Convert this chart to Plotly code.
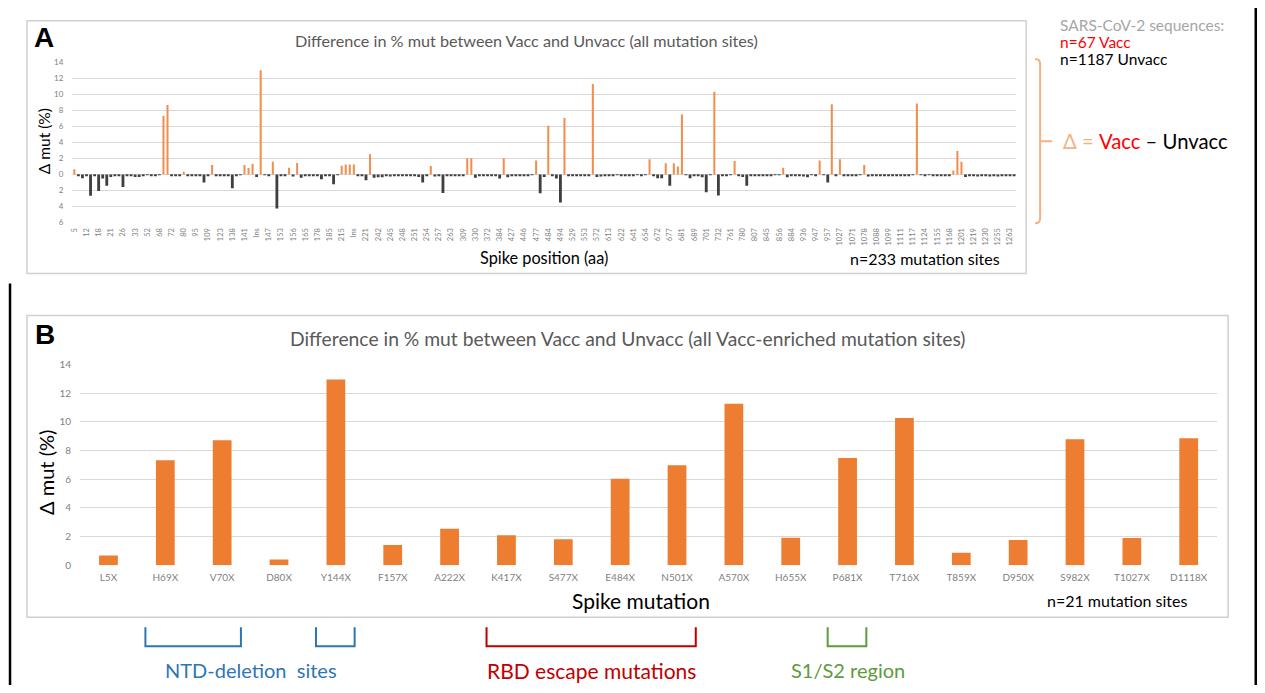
import plotly.graph_objects as go

# Page is 1265x693; the browser's default body margin (8px) places the figure at (8, 8).
PAGE_W, PAGE_H = 1265, 693
OFF = 8
W, H = PAGE_W - 2 * OFF, PAGE_H - 2 * OFF


def px(x):
    xi = (x - 3) / 0.9975
    return (xi - OFF) / W


def py(y):
    yi = (y - 7.3) / 0.98
    return 1 - (yi - OFF) / H


# ---------------- Panel A data ----------------
site_tick_labels = [
    "5", "12", "18", "21", "26", "33", "52", "68", "72", "80",
    "95", "109", "123", "138", "141", "Ins", "147", "153", "156", "165",
    "178", "185", "215", "Ins", "221", "242", "245", "248", "251", "254",
    "257", "263", "309", "330", "372", "384", "427", "446", "477", "484",
    "494", "529", "553", "572", "613", "622", "641", "654", "672", "677",
    "681", "689", "701", "732", "761", "780", "807", "845", "856", "884",
    "936", "947", "957", "1027", "1071", "1078", "1088", "1099", "1111", "1117",
    "1124", "1155", "1168", "1201", "1219", "1230", "1255", "1263",
]

delta_all = [
    0.66, -0.1, -0.45, -0.1, -2.65, -0.2, -2.05, -0.5, -1.4, -0.3,
    -0.1, -0.15, -1.55, -0.15, -0.1, -0.3, -0.3, -0.1, -0.05, -0.1,
    -0.15, -0.05, 7.33, 8.67, -0.1, -0.1, -0.1, 0.35, -0.1, -0.1,
    -0.15, -0.1, -1.0, -0.1, 1.2, -0.1, -0.2, -0.2, -0.1, -1.7,
    -0.1, -0.05, 1.2, 0.8, 1.35, -0.3, 13.0, -0.05, -0.1, 1.6,
    -4.25, -0.2, -0.1, 0.85, -0.25, 1.45, -0.4, -0.1, -0.15, -0.1,
    -0.15, -0.6, -0.1, -0.15, -1.2, -0.05, 1.1, 1.25, 1.25, 1.25,
    -0.2, -0.2, -0.7, 2.54, -0.4, -0.35, -0.35, -0.2, -0.25, -0.1,
    -0.2, -0.2, -0.15, -0.2, -0.15, -0.3, -1.0, -0.1, 1.05, -0.25,
    -0.2, -2.3, -0.2, -0.15, -0.1, -0.1, -0.1, 2.04, 2.04, -0.4,
    -0.1, -0.15, -0.2, -0.15, -0.1, -0.5, 2.04, -0.35, -0.1, -0.15,
    -0.1, -0.1, -0.1, -0.05, 1.75, -2.35, -0.3, 6.08, -0.15, -0.5,
    -3.5, 7.04, -0.1, -0.15, -0.1, -0.1, -0.15, -0.1, 11.29, -0.3,
    -0.25, -0.1, -0.1, -0.1, -0.05, -0.1, -0.15, -0.1, -0.1, -0.05,
    -0.1, -0.05, 1.9, -0.1, -0.45, -0.45, 1.4, -1.4, 1.4, 1.0,
    7.5, -0.05, -0.45, -0.1, -0.2, -0.35, -2.2, -0.05, 10.33, -2.6,
    -0.2, -0.1, -0.05, 1.7, -0.1, -0.3, -1.4, -0.1, -0.1, -0.2,
    -0.1, -0.1, -0.1, -0.05, -0.05, 0.85, -0.35, -0.1, -0.1, -0.2,
    -0.25, -0.35, -0.05, -0.1, 1.75, -0.05, -1.0, 8.75, -0.1, 1.9,
    -0.1, -0.15, -0.1, -0.1, -0.05, 1.2, -0.25, -0.1, -0.1, -0.1,
    -0.1, -0.1, -0.15, -0.2, -0.1, -0.15, -0.1, -0.05, 8.87, -0.05,
    -0.1, -0.05, -0.1, -0.2, -0.1, -0.2, -0.2, 0.5, 2.95, 1.6,
    -0.3, -0.1, -0.2, -0.25, -0.2, -0.15, -0.25, -0.2, -0.25, -0.1,
    -0.2, -0.15, -0.1,
]

a_ytick_vals = [-6, -4, -2, 0, 2, 4, 6, 8, 10, 12, 14]
a_ytick_text = ["6", "4", "2", "0", "2", "4", "6", "8", "10", "12", "14"]

# ---------------- Panel B data ----------------
mutations_b = [
    "L5X", "H69X", "V70X", "D80X", "Y144X", "F157X", "A222X", "K417X", "S477X", "E484X",
    "N501X", "A570X", "H655X", "P681X", "T716X", "T859X", "D950X", "S982X", "T1027X", "D1118X",
]
delta_b = [
    0.67, 7.33, 8.72, 0.4, 12.97, 1.4, 2.54, 2.08, 1.8, 6.04,
    6.98, 11.27, 1.91, 7.49, 10.27, 0.86, 1.75, 8.8, 1.89, 8.87,
]

# bracket groups in panel B: (first mutation, last mutation, label, colour)
groups_b = [
    ("H69X", "V70X", None, "#2E75B6"),
    ("Y144X", "Y144X", None, "#2E75B6"),
    ("K417X", "N501X", "RBD escape mutations", "#C00000"),
    ("P681X", "P681X", "S1/S2 region", "#5E9B3C"),
]

# ---------------- styles ----------------
ORANGE_A = "#F28E4C"
DARK = "#3F3F3F"
ORANGE_B = "#ED7D31"
GRID = "#D9D9D9"
TICK = "#7F7F7F"
FONT = "Lato"

fig = go.Figure()

site_index = list(range(len(delta_all)))
fig.add_trace(go.Bar(
    x=site_index, y=delta_all,
    marker_color=[ORANGE_A if v > 0 else DARK for v in delta_all],
    width=[0.5 if v > 0 else 0.7 for v in delta_all],
    marker_line_width=0,
    xaxis="x", yaxis="y", hoverinfo="x+y",
))

fig.add_trace(go.Bar(
    x=mutations_b, y=delta_b,
    marker_color=ORANGE_B, marker_line_width=0, width=0.33,
    xaxis="x2", yaxis="y2",
))

fig.update_layout(
    width=W, height=H, autosize=False,
    margin=dict(l=0, r=0, t=0, b=0),
    paper_bgcolor="white", plot_bgcolor="white",
    showlegend=False,
    font=dict(family=FONT, color="#404040"),
    xaxis=dict(
        domain=[px(72.3), px(1016)], anchor="y",
        range=[-0.5, len(delta_all) - 0.5],
        tickvals=site_index[::3], ticktext=site_tick_labels,
        tickangle=-90, tickfont=dict(size=7.5, color=TICK, family=FONT),
        showgrid=False, zeroline=False, showline=False, ticks="",
        ticklabelstandoff=3,
    ),
    yaxis=dict(
        domain=[py(222.3), py(62.3)], anchor="x",
        range=[-6, 14],
        tickvals=a_ytick_vals, ticktext=a_ytick_text,
        tickfont=dict(size=8, color=TICK, family=FONT),
        showgrid=True, gridcolor=GRID, gridwidth=1,
        zeroline=False, showline=False, ticks="",
        ticklabelstandoff=8,
    ),
    xaxis2=dict(
        domain=[px(80), px(1217)], anchor="y2", type="category",
        tickfont=dict(size=10, color=TICK, family=FONT),
        showgrid=False, zeroline=False, showline=False, ticks="",
        ticklabelstandoff=5,
    ),
    yaxis2=dict(
        domain=[py(564), py(364)], anchor="x2",
        range=[0, 14], dtick=2,
        tickfont=dict(size=10, color=TICK, family=FONT),
        showgrid=True, gridcolor=GRID, gridwidth=1,
        zeroline=False, showline=False, ticks="",
        ticklabelstandoff=8,
    ),
)

shapes = []
# panel frames
shapes.append(dict(type="rect", xref="paper", yref="paper",
                   x0=px(27), x1=px(1026), y0=py(273), y1=py(21),
                   line=dict(color="#D0D0D0", width=1.5)))
shapes.append(dict(type="rect", xref="paper", yref="paper",
                   x0=px(27), x1=px(1228), y0=py(616), y1=py(315),
                   line=dict(color="#D0D0D0", width=1.5)))
# outer black lines
shapes.append(dict(type="line", xref="paper", yref="paper",
                   x0=px(10), x1=px(10), y0=py(283), y1=-0.05,
                   line=dict(color="black", width=2.5)))
shapes.append(dict(type="line", xref="paper", yref="paper",
                   x0=0.999, x1=0.999, y0=-0.05, y1=1.05,
                   line=dict(color="black", width=2.5)))

# orange brace on the right of panel A
bx = 1040
brace = (f"M {px(bx-5)},{py(59)} Q {px(bx)},{py(59)} {px(bx)},{py(64)} "
         f"L {px(bx)},{py(218)} Q {px(bx)},{py(223)} {px(bx-5)},{py(223)} "
         f"M {px(bx)},{py(141)} L {px(bx+12)},{py(141)}")
shapes.append(dict(type="path", xref="paper", yref="paper", path=brace,
                   line=dict(color="#F4B183", width=2)))

# brackets under panel B
for first, last, _, col in groups_b:
    i0 = mutations_b.index(first) - 0.35
    i1 = mutations_b.index(last) + 0.33
    shapes.append(dict(type="path", xref="x2", yref="paper",
                       path=(f"M {i0},{py(626)} L {i0},{py(645)} "
                             f"L {i1},{py(645)} L {i1},{py(626)}"),
                       line=dict(color=col, width=2)))
fig.update_layout(shapes=shapes)

ann = []


def text(x, y, s, size, color="#404040", xanchor="center", angle=0, family=FONT, bold=False):
    if bold:
        s = f"<b>{s}</b>"
    ann.append(dict(x=px(x), y=py(y), xref="paper", yref="paper", text=s,
                    showarrow=False, xanchor=xanchor, yanchor="middle",
                    textangle=angle,
                    font=dict(size=size, color=color, family=family)))


# panel letters
text(32, 38, "A", 28, "black", xanchor="left", family="Liberation Sans", bold=True)
text(33, 334, "B", 28, "black", xanchor="left", family="Liberation Sans", bold=True)

# titles
text(526, 41, "Difference in % mut between Vacc and Unvacc (all mutation sites)", 16.2, "#595959")
text(628, 338, "Difference in % mut between Vacc and Unvacc (all Vacc-enriched mutation sites)", 19.3, "#595959")

# axis titles
text(44, 141, "Δ mut (%)", 15.5, "black", angle=-90)
text(544, 257, "Spike position (aa)", 16.3, "black")
text(925, 258, "n=233 mutation sites", 16, "black")

text(46, 472, "Δ mut (%)", 20, "black", angle=-90)
text(641, 599, "Spike mutation", 21, "black")
text(1117, 599, "n=21 mutation sites", 16, "black")

# right side annotations
text(1058, 25, "SARS-CoV-2 sequences:", 15.5, "#A6A6A6", xanchor="left")
text(1058, 42, "n=67 Vacc", 15.5, "#FF0000", xanchor="left")
text(1058, 59, "n=1187 Unvacc", 15.5, "black", xanchor="left")
text(1061, 141,
     "<span style='color:#F4B183'>Δ = </span><span style='color:#FF0000'>Vacc</span>"
     "<span style='color:black'> – Unvacc</span>",
     20.3, "black", xanchor="left")

# bracket labels
text(251, 669, "NTD-deletion  sites", 20, "#2E75B6")
for first, last, label, col in groups_b:
    if label:
        xc = (mutations_b.index(first) + mutations_b.index(last)) / 2
        ann.append(dict(x=xc, y=py(669), xref="x2", yref="paper", text=label,
                        showarrow=False, xanchor="center", yanchor="middle",
                        font=dict(size=21 if label.startswith("RBD") else 20,
                                  color=col, family=FONT)))

fig.update_layout(annotations=ann)

fig.write_html("out.html", config={"displayModeBar": False})
